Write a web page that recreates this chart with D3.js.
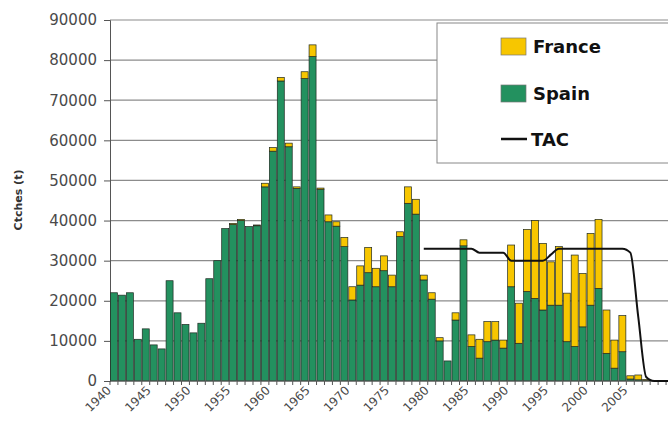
<!DOCTYPE html>
<html>
<head>
<meta charset="utf-8">
<script src="https://cdn.jsdelivr.net/npm/d3@7"></script>
<style>
  body { margin: 0; background: #fff; }
  svg { display: block; }
</style>
</head>
<body>
<div id="chart"></div>
<script>
let width = 668, height = 431;

// catches by year (t)
let years = d3.range(1940, 2011);

let spain = [22000, 21400, 22000, 10400, 13000, 9000, 8000, 25000, 17000, 14100,
  12000, 14400, 25500, 30000, 38000, 39000, 40000, 38500, 38700, 48400,
  57300, 74800, 58400, 48000, 75400, 80900, 47800, 39700, 38600, 33500,
  20200, 23900, 27000, 23500, 27500, 23500, 36000, 44300, 41600, 25200,
  20400, 10000, 5000, 15200, 33700, 8600, 5700, 9800, 10200, 8200,
  23500, 9400, 22300, 20600, 17700, 18900, 18900, 9800, 8600, 13500,
  18900, 23100, 6900, 3200, 7300, 500, 300, 100, 0, 0,
  0];

let france = [0, 0, 0, 0, 0, 0, 0, 0, 0, 0,
  0, 0, 0, 0, 0, 300, 300, 0, 200, 900,
  900, 900, 900, 400, 1700, 2900, 300, 1700, 1100, 2300,
  3300, 4800, 6300, 4600, 3700, 2900, 1200, 4100, 3700, 1200,
  1600, 800, 0, 1800, 1500, 2900, 4700, 5000, 4600, 2000,
  10400, 10000, 15500, 19400, 16600, 10800, 14600, 12100, 22800, 13300,
  17900, 17200, 10800, 7000, 9000, 800, 1200, 300, 0, 0,
  0];

let tacYears = d3.range(1979, 2011);
let tac = [33000, 33000, 33000, 33000, 33000, 33000, 33000,
  32000, 32000, 32000, 32000,
  30000, 30000, 30000, 30000, 30000, 31500,
  33000, 33000, 33000, 33000, 33000, 33000, 33000, 33000, 33000,
  32000, 16000, 1000, 0, 0, 0];

let yTicks = d3.range(0, 90001, 10000);

let green = "#23915f", yellow = "#f7c600";

let svg = d3.select("#chart")
.append("svg")
.attr("width", width)
.attr("height", height)
.style("font-family", "'DejaVu Sans', Verdana, sans-serif");

let x = d3.scaleBand()
.domain(years)
.range([110, 674])
.paddingInner(0.12)
.paddingOuter(0.06);

let y = d3.scaleLinear()
.domain([0, 90000])
.range([381, 20]);

// gridlines
svg.append("g")
.selectAll("line")
.data(yTicks.filter(function(d) { return d > 0; }))
.enter().append("line")
.attr("x1", 110)
.attr("x2", 674)
.attr("y1", function(d) { return y(d); })
.attr("y2", function(d) { return y(d); })
.attr("stroke", "#8c8c8c")
.attr("stroke-width", 1.2);

// y axis
let yAxis = svg.append("g")
.attr("transform", "translate(110,0)")
.call(d3.axisLeft(y).tickValues(yTicks).tickFormat(d3.format("d")).tickSize(6).tickPadding(7));
yAxis.select(".domain").attr("stroke", "#555");
yAxis.selectAll(".tick line").attr("stroke", "#555");
yAxis.selectAll("text")
.attr("font-size", 15)
.attr("fill", "#4a4a4a")
.style("font-family", "'DejaVu Sans', Verdana, sans-serif");

svg.append("text")
.attr("transform", "translate(22,200) rotate(-90)")
.attr("text-anchor", "middle")
.attr("font-size", 11)
.attr("font-weight", "bold")
.attr("fill", "#333")
.text("Ctches (t)");

// stacked bars
let rows = years.map(function(yr, i) {
  return {year: yr, spain: spain[i], france: france[i]};
});
let stack = d3.stack().keys(["spain", "france"])(rows);
let colors = {spain: green, france: yellow};

svg.append("g")
.selectAll("g")
.data(stack)
.enter().append("g")
.attr("fill", function(d) { return colors[d.key]; })
.selectAll("rect")
.data(function(d) { return d.filter(function(s) { return s[1] - s[0] > 0; }); })
.enter().append("rect")
.attr("x", function(d) { return x(d.data.year); })
.attr("width", x.bandwidth())
.attr("y", function(d) { return y(d[1]); })
.attr("height", function(d) { return y(d[0]) - y(d[1]); })
.attr("stroke", "#1f2a22")
.attr("stroke-width", 0.7);

// x axis
svg.append("line")
.attr("x1", 110).attr("x2", 674)
.attr("y1", 381).attr("y2", 381)
.attr("stroke", "#555");

svg.append("g")
.selectAll("line")
.data(years.concat([2011]))
.enter().append("line")
.attr("x1", function(d) { return 110 + (d - 1940) * x.step(); })
.attr("x2", function(d) { return 110 + (d - 1940) * x.step(); })
.attr("y1", 381)
.attr("y2", 385)
.attr("stroke", "#555");

svg.append("g")
.selectAll("text")
.data(years.filter(function(d) { return d % 5 === 0 && d < 2010; }))
.enter().append("text")
.attr("transform", function(d) {
  return "translate(" + (x(d) + x.bandwidth() / 2 - 2) + ",391) rotate(-45)";
})
.attr("text-anchor", "end")
.attr("font-size", 12)
.attr("fill", "#4a4a4a")
.text(function(d) { return d; });

// TAC line
let line = d3.line()
.x(function(d, i) { return x(tacYears[i]) + x.bandwidth() / 2; })
.y(function(d) { return y(d); })
.curve(d3.curveMonotoneX);

svg.append("path")
.datum(tac)
.attr("d", line)
.attr("fill", "none")
.attr("stroke", "#111")
.attr("stroke-width", 2);

// legend
let legend = svg.append("g");
legend.append("rect")
.attr("x", 437)
.attr("y", 23)
.attr("width", 240)
.attr("height", 140)
.attr("fill", "#fff")
.attr("stroke", "#888");

let items = [
  {name: "France", color: yellow, y: 46},
  {name: "Spain", color: green, y: 93}
];
legend.selectAll(".sw")
.data(items)
.enter().append("rect")
.attr("x", 501)
.attr("y", function(d) { return d.y - 8; })
.attr("width", 25)
.attr("height", 17)
.attr("fill", function(d) { return d.color; })
.attr("stroke", "#777")
.attr("stroke-width", 0.7);

legend.append("line")
.attr("x1", 501).attr("x2", 527)
.attr("y1", 139).attr("y2", 139)
.attr("stroke", "#111")
.attr("stroke-width", 2.5);

legend.selectAll(".lt")
.data(items.concat([{name: "TAC", y: 139}]))
.enter().append("text")
.attr("x", function(d) { return d.name === "TAC" ? 531 : 533; })
.attr("y", function(d) { return d.y + 7; })
.attr("font-size", 18)
.attr("font-weight", "bold")
.attr("fill", "#111")
.text(function(d) { return d.name; });
</script>
</body>
</html>
